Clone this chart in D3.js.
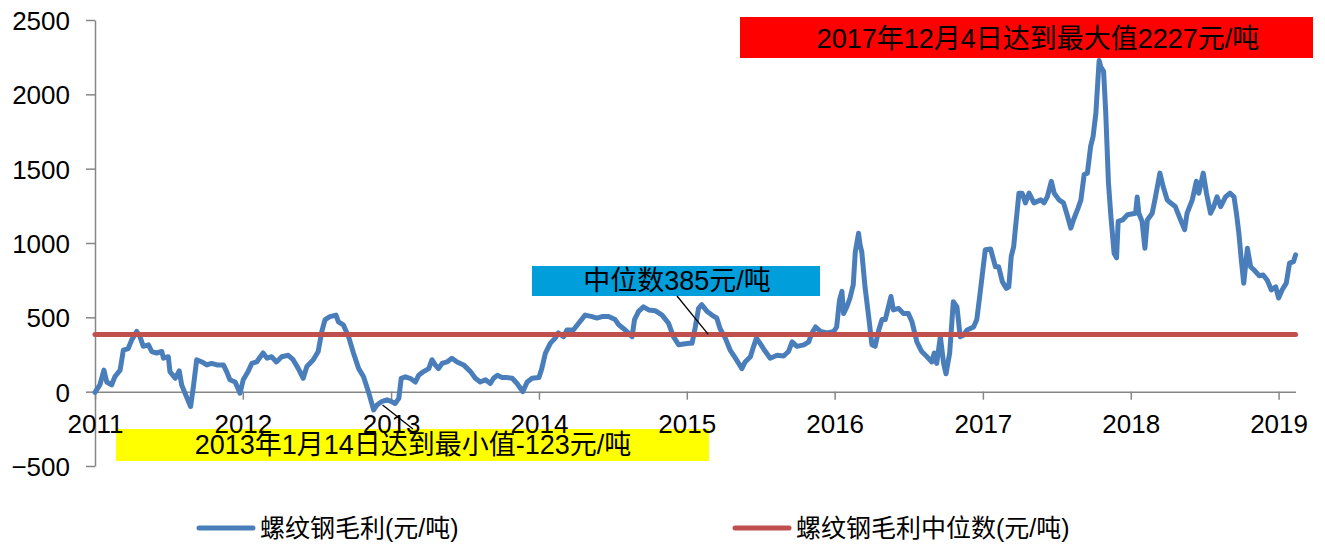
<!DOCTYPE html>
<html>
<head>
<meta charset="utf-8">
<script src="https://cdn.jsdelivr.net/npm/d3@7"></script>
<style>
  html, body { margin: 0; padding: 0; background: #fff; }
  svg { display: block; font-family: "Liberation Sans", Arial, "Noto Sans CJK SC", sans-serif; }
  .axis path, .axis line { stroke: #868686; stroke-width: 1.5; }
  .axis text { fill: #000; font-size: 26px; }
</style>
</head>
<body>
<svg width="1325" height="544"></svg>
<script>
const width = 1325, height = 544;
const svg = d3.select("svg");

// Data: rebar gross margin (yuan/ton)
const dates = [
  "2011-01-01","2011-01-13","2011-01-23","2011-01-30","2011-02-11","2011-02-19","2011-03-04","2011-03-12","2011-03-24","2011-04-02",
  "2011-04-14","2011-04-22","2011-04-30","2011-05-13","2011-05-21","2011-06-02","2011-06-15","2011-06-19","2011-07-01","2011-07-05",
  "2011-07-18","2011-07-28","2011-08-03","2011-08-15","2011-08-25","2011-09-01","2011-09-09","2011-09-22","2011-10-04","2011-10-16",
  "2011-10-29","2011-11-14","2011-11-22","2011-11-30","2011-12-13","2011-12-25",
  "2012-01-02","2012-01-14","2012-01-23","2012-02-04","2012-02-20","2012-03-01","2012-03-12","2012-03-24","2012-04-06","2012-04-22",
  "2012-05-04","2012-05-17","2012-05-29","2012-06-07","2012-06-23","2012-07-05","2012-07-14","2012-07-22","2012-08-03","2012-08-18",
  "2012-08-24","2012-09-05","2012-09-18","2012-09-30","2012-10-13","2012-10-25","2012-11-06","2012-11-19","2012-11-27","2012-12-10",
  "2012-12-22",
  "2013-01-01","2013-01-11","2013-01-20","2013-01-26","2013-02-05","2013-02-17","2013-03-02","2013-03-10","2013-03-22","2013-04-04",
  "2013-04-12","2013-04-20","2013-04-28","2013-05-07","2013-05-19","2013-05-31","2013-06-13","2013-06-29","2013-07-16","2013-07-28",
  "2013-08-09","2013-08-22","2013-09-03","2013-09-11","2013-09-20","2013-10-02","2013-10-14","2013-10-27","2013-11-08","2013-11-22",
  "2013-12-03","2013-12-15",
  "2014-01-01","2014-01-08","2014-01-17","2014-01-29","2014-02-10","2014-02-18","2014-03-03","2014-03-11","2014-03-27","2014-04-09",
  "2014-04-25","2014-05-12","2014-05-24","2014-06-06","2014-06-22","2014-07-08","2014-07-17","2014-08-02","2014-08-19","2014-08-25",
  "2014-09-04","2014-09-16","2014-09-29","2014-10-15","2014-11-01","2014-11-17","2014-11-29","2014-12-12","2014-12-24",
  "2015-01-07","2015-01-14","2015-01-22","2015-01-30","2015-02-07","2015-02-20","2015-03-04","2015-03-16","2015-03-24","2015-04-06",
  "2015-04-18","2015-05-01","2015-05-17","2015-05-25","2015-06-07","2015-06-15","2015-06-22","2015-07-01","2015-07-14","2015-07-26",
  "2015-08-12","2015-08-28","2015-09-09","2015-09-18","2015-09-30","2015-10-17","2015-10-29","2015-11-06","2015-11-15","2015-11-27",
  "2015-12-14","2015-12-30",
  "2016-01-06","2016-01-13","2016-01-19","2016-01-23","2016-01-31","2016-02-08","2016-02-16","2016-02-21","2016-02-29","2016-03-04",
  "2016-03-08","2016-03-16","2016-03-25","2016-04-02","2016-04-10","2016-04-19","2016-04-27","2016-05-05","2016-05-19","2016-05-25",
  "2016-06-07","2016-06-19","2016-07-01","2016-07-10","2016-07-22","2016-08-03","2016-08-16","2016-08-28","2016-09-03","2016-09-09",
  "2016-09-18","2016-09-26","2016-10-02","2016-10-11","2016-10-20","2016-10-29","2016-11-06","2016-11-14","2016-11-23","2016-12-09",
  "2016-12-17","2016-12-25",
  "2017-01-01","2017-01-07","2017-01-20","2017-02-01","2017-02-09","2017-02-18","2017-02-28","2017-03-06","2017-03-12","2017-03-18",
  "2017-03-22","2017-03-31","2017-04-08","2017-04-16","2017-04-25","2017-05-07","2017-05-24","2017-06-01","2017-06-09","2017-06-19",
  "2017-06-26","2017-07-08","2017-07-19","2017-07-29","2017-08-06","2017-08-14","2017-08-24","2017-08-31","2017-09-08","2017-09-16",
  "2017-09-24","2017-09-30","2017-10-07","2017-10-11","2017-10-15","2017-10-19","2017-10-26","2017-10-31","2017-11-07","2017-11-13",
  "2017-11-21","2017-11-27","2017-12-01","2017-12-12","2017-12-24",
  "2018-01-13","2018-01-17","2018-01-21","2018-01-29","2018-02-05","2018-02-11","2018-02-23","2018-03-03","2018-03-14","2018-03-22",
  "2018-04-01","2018-04-09","2018-04-21","2018-05-04","2018-05-14","2018-05-20","2018-06-02","2018-06-12","2018-06-18","2018-06-29",
  "2018-07-07","2018-07-17","2018-07-25","2018-08-02","2018-08-11","2018-08-23","2018-09-03","2018-09-13","2018-09-19","2018-09-25",
  "2018-10-01","2018-10-07","2018-10-16","2018-10-24","2018-11-01","2018-11-14","2018-11-24","2018-12-04","2018-12-14","2018-12-25",
  "2019-01-01","2019-01-10","2019-01-20","2019-01-28","2019-02-07","2019-02-12"
];
const margins = [
  -5, 45, 145, 65, 45, 100, 145, 280, 290, 350,
  405, 370, 305, 315, 270, 260, 270, 225, 235, 135,
  90, 140, 45, -35, -100, 35, 215, 200, 180, 190,
  180, 180, 135, 80, 65, -10,
  80, 135, 190, 200, 260, 225, 235, 200, 235, 245,
  215, 155, 90, 170, 215, 270, 405, 485, 505, 515,
  470, 450, 370, 260, 155, 100, 0, -123, -90, -65,
  -55,
  -65, -80, -45, 90, 100, 90, 65, 110, 135, 155,
  215, 180, 155, 190, 200, 225, 200, 180, 135, 90,
  65, 80, 55, 90, 110, 95, 95, 90, 55, 0,
  65, 90,
  95, 155, 260, 325, 360, 395, 370, 415, 415, 460,
  515, 505, 495, 505, 505, 485, 450, 415, 370, 485,
  540, 570, 550, 545, 515, 460, 370, 315, 320,
  325, 325, 435, 560, 585, 540, 515, 495, 425, 360,
  280, 225, 155, 200, 235, 305, 360, 325, 270, 225,
  245, 240, 270, 335, 305, 315, 335, 395, 435, 405,
  395, 405,
  435, 615, 675, 525, 570, 630, 720, 940, 1065, 985,
  940, 705, 505, 315, 305, 415, 485, 485, 640, 550,
  560, 525, 525, 470, 335, 270, 235, 200, 260, 190,
  370, 190, 120, 260, 605, 570, 370, 380, 415, 435,
  485, 660,
  820, 955, 960, 840, 840, 740, 695, 705, 910, 975,
  1090, 1335, 1335, 1270, 1335, 1270, 1290, 1270, 1310, 1415,
  1335, 1290, 1270, 1180, 1100, 1165, 1235, 1290, 1460, 1470,
  1650, 1715, 1875, 2055, 2227, 2185, 2155, 1895, 1405, 1180,
  930, 900, 1145, 1155, 1190,
  1200, 1310, 1200, 1145, 965, 1155, 1200, 1310, 1470, 1380,
  1290, 1270, 1245, 1155, 1090, 1200, 1290, 1415, 1335, 1470,
  1335, 1200, 1245, 1310, 1245, 1310, 1335, 1310, 1200, 1065,
  885, 730, 965, 840, 820, 780, 785, 750, 685, 705,
  630, 685, 730, 865, 875, 920
];
const median = 385;
const yTicks = [-500, 0, 500, 1000, 1500, 2000, 2500];
const yearTicks = [2011, 2012, 2013, 2014, 2015, 2016, 2017, 2018, 2019];
const seriesNames = ["螺纹钢毛利(元/吨)", "螺纹钢毛利中位数(元/吨)"];
const notes = {
  max: "2017年12月4日达到最大值2227元/吨",
  min: "2013年1月14日达到最小值-123元/吨",
  median: "中位数385元/吨"
};

const parse = d3.timeParse("%Y-%m-%d");
const data = dates.map((d, i) => ({ date: parse(dates[i]), value: margins[i] }));

// Scales
const x = d3.scaleTime()
  .domain([new Date(2011, 0, 1), new Date(2019, 1, 13)])
  .range([95, 1296]);
const y = d3.scaleLinear()
  .domain([-500, 2500])
  .range([466, 20]);

const blue = "#4A7EBB", red = "#C0504D";

// Annotation boxes (behind axis labels)
const gNotes = svg.append("g");
function noteBox(x0, y0, w, h, fill, text, tx, ty) {
  gNotes.append("rect").attr("x", x0).attr("y", y0).attr("width", w).attr("height", h).attr("fill", fill);
  gNotes.append("text")
    .attr("x", tx).attr("y", ty)
    .attr("text-anchor", "middle")
    .attr("dominant-baseline", "central")
    .attr("font-size", 27)
    .attr("fill", "#000")
    .text(text);
}
noteBox(740, 17, 573, 41, "#FF0000", notes.max, 1038, 39);
noteBox(532, 266, 288, 30, "#009FDC", notes.median, 677, 281);
noteBox(116, 429, 593, 32, "#FFFF00", notes.min, 413, 445);

// Axes
const yAxis = svg.append("g")
  .attr("class", "axis")
  .attr("transform", "translate(95,0)")
  .call(d3.axisLeft(y).tickValues(yTicks).tickSize(9).tickSizeOuter(0).tickPadding(16).tickFormat(d3.format("d")));
yAxis.selectAll("text").attr("dy", "0.36em");

const xAxis = svg.append("g")
  .attr("class", "axis")
  .attr("transform", `translate(0,${y(0)})`)
  .call(d3.axisBottom(x)
    .tickValues(yearTicks.map(yr => new Date(yr, 0, 1)))
    .tickSize(8).tickSizeOuter(0)
    .tickFormat(d3.timeFormat("%Y")));
xAxis.selectAll("text").attr("y", 23);
xAxis.select(".domain").attr("d", `M95,0.5H1296`);

// Series line
const line = d3.line()
  .x(d => x(d.date))
  .y(d => y(d.value));

svg.append("path")
  .datum(data)
  .attr("fill", "none")
  .attr("stroke", blue)
  .attr("stroke-width", 5)
  .attr("stroke-linejoin", "round")
  .attr("stroke-linecap", "round")
  .attr("d", line);

// Median line
svg.append("line")
  .attr("x1", x(data[0].date)).attr("x2", x(data[data.length - 1].date))
  .attr("y1", y(median)).attr("y2", y(median))
  .attr("stroke", red)
  .attr("stroke-width", 5)
  .attr("stroke-linecap", "round");

// Leader lines
svg.append("line")
  .attr("x1", 677).attr("y1", 296)
  .attr("x2", x(parse("2015-02-23"))).attr("y2", y(median))
  .attr("stroke", "#000").attr("stroke-width", 1.3);
svg.append("line")
  .attr("x1", x(parse("2012-12-11"))).attr("y1", y(-90))
  .attr("x2", 413).attr("y2", 429)
  .attr("stroke", "#000").attr("stroke-width", 1.3);

// Legend
const legend = svg.append("g");
const legendItems = [
  { name: seriesNames[0], color: blue, x0: 199 },
  { name: seriesNames[1], color: red, x0: 735 }
];
legendItems.forEach(item => {
  legend.append("line")
    .attr("x1", item.x0).attr("x2", item.x0 + 54)
    .attr("y1", 528).attr("y2", 528)
    .attr("stroke", item.color)
    .attr("stroke-width", 5)
    .attr("stroke-linecap", "round");
  legend.append("text")
    .attr("x", item.x0 + 61).attr("y", 528)
    .attr("dominant-baseline", "central")
    .attr("font-size", 25)
    .attr("fill", "#000")
    .text(item.name);
});
</script>
</body>
</html>
